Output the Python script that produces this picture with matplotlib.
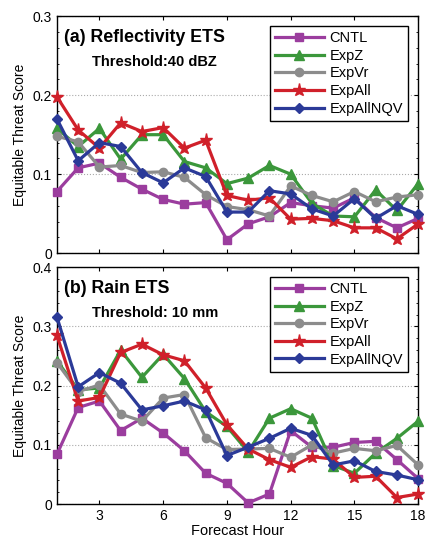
import numpy as np
import matplotlib.pyplot as plt
from matplotlib.ticker import MultipleLocator

plt.rcParams['font.family'] = ['Liberation Sans', 'DejaVu Sans']

hours = np.arange(1, 19)

# (a) reflectivity ETS, threshold 40 dBZ
ref_cntl = [0.078, 0.108, 0.114, 0.096, 0.081, 0.068, 0.062, 0.064, 0.017, 0.037,
            0.046, 0.064, 0.060, 0.057, 0.070, 0.045, 0.032, 0.044]
ref_expz = [0.158, 0.135, 0.158, 0.119, 0.150, 0.150, 0.116, 0.108, 0.088, 0.095,
            0.111, 0.100, 0.063, 0.047, 0.046, 0.080, 0.054, 0.088]
ref_expvr = [0.148, 0.141, 0.109, 0.111, 0.102, 0.103, 0.096, 0.074, 0.059, 0.055,
             0.047, 0.085, 0.073, 0.065, 0.078, 0.065, 0.071, 0.074]
ref_expall = [0.198, 0.156, 0.133, 0.165, 0.154, 0.159, 0.133, 0.143, 0.073, 0.067,
              0.070, 0.043, 0.044, 0.041, 0.032, 0.032, 0.018, 0.037]
ref_nqv = [0.170, 0.117, 0.140, 0.135, 0.102, 0.089, 0.108, 0.097, 0.052, 0.052,
           0.079, 0.075, 0.056, 0.047, 0.069, 0.044, 0.060, 0.049]

# (b) rain ETS, threshold 10 mm
rain_cntl = [0.084, 0.163, 0.174, 0.124, 0.145, 0.120, 0.090, 0.052, 0.035, 0.002,
             0.017, 0.124, 0.096, 0.096, 0.104, 0.106, 0.075, 0.043]
rain_expz = [0.242, 0.193, 0.196, 0.260, 0.214, 0.253, 0.212, 0.156, 0.131, 0.088,
             0.145, 0.161, 0.145, 0.065, 0.052, 0.086, 0.111, 0.140]
rain_expvr = [0.239, 0.190, 0.201, 0.152, 0.140, 0.179, 0.185, 0.112, 0.092, 0.093,
              0.094, 0.079, 0.100, 0.086, 0.094, 0.090, 0.099, 0.066]
rain_expall = [0.285, 0.174, 0.180, 0.256, 0.270, 0.252, 0.242, 0.196, 0.134, 0.093,
               0.075, 0.062, 0.080, 0.076, 0.045, 0.047, 0.011, 0.017]
rain_nqv = [0.316, 0.198, 0.222, 0.204, 0.159, 0.166, 0.174, 0.159, 0.082, 0.096,
            0.111, 0.128, 0.116, 0.066, 0.073, 0.055, 0.049, 0.041]

names = ['CNTL', 'ExpZ', 'ExpVr', 'ExpAll', 'ExpAllNQV']
colors = ['#9b3d9e', '#3b973b', '#8c8c8c', '#d0202a', '#2b3a98']
markers = ['s', '^', 'o', '*', 'D']
msizes = [5.5, 7, 6, 9.5, 5.5]

fig = plt.figure(figsize=(4.28, 5.42), dpi=100)
ax1 = fig.add_axes([0.133, 0.533, 0.844, 0.437])
ax2 = fig.add_axes([0.133, 0.070, 0.844, 0.437])

panels = [
    (ax1, [ref_cntl, ref_expz, ref_expvr, ref_expall, ref_nqv], 0.3,
     '(a) Reflectivity ETS', 'Threshold:40 dBZ'),
    (ax2, [rain_cntl, rain_expz, rain_expvr, rain_expall, rain_nqv], 0.4,
     '(b) Rain ETS', 'Threshold: 10 mm'),
]

for ax, series, ymax, title, thresh in panels:
    for vals, name, c, m, ms in zip(series, names, colors, markers, msizes):
        ax.plot(hours, vals, color=c, marker=m, markersize=ms, lw=2.3,
                label=name, clip_on=False, zorder=3)
    ax.set_xlim(1, 18)
    ax.set_ylim(0, ymax)
    ax.set_xticks([3, 6, 9, 12, 15, 18])
    ax.yaxis.set_major_locator(MultipleLocator(0.1))
    ax.yaxis.set_minor_locator(MultipleLocator(0.02))
    ax.set_yticklabels(['0' if t == 0 else '%.1f' % t for t in ax.get_yticks()])
    ax.tick_params(direction='in', top=True, right=True, labelsize=10, length=3)
    ax.tick_params(which='minor', direction='in', right=True, length=1.5)
    ax.grid(axis='y', linestyle=':', color='#aaaaaa', lw=0.8)
    for s in ax.spines.values():
        s.set_linewidth(1.0)
    ax.set_ylabel('Equitable Threat Score', fontsize=10)
    ax.text(0.02, 0.89, title, transform=ax.transAxes, fontsize=12.8,
            fontweight='bold')
    ax.text(0.097, 0.79, thresh, transform=ax.transAxes, fontsize=10.5,
            fontweight='bold')
    leg = ax.legend(loc='upper right', bbox_to_anchor=(0.992, 0.99), fontsize=10.5,
                    handlelength=3.3, fancybox=False, framealpha=1,
                    borderpad=0.35, labelspacing=0.25, handletextpad=0.4)
    leg.get_frame().set_edgecolor('black')
    leg.get_frame().set_linewidth(1.0)

ax1.tick_params(labelbottom=False)
ax2.set_xlabel('Forecast Hour', fontsize=10.5, labelpad=1)

fig.savefig('out.png', dpi=100)
